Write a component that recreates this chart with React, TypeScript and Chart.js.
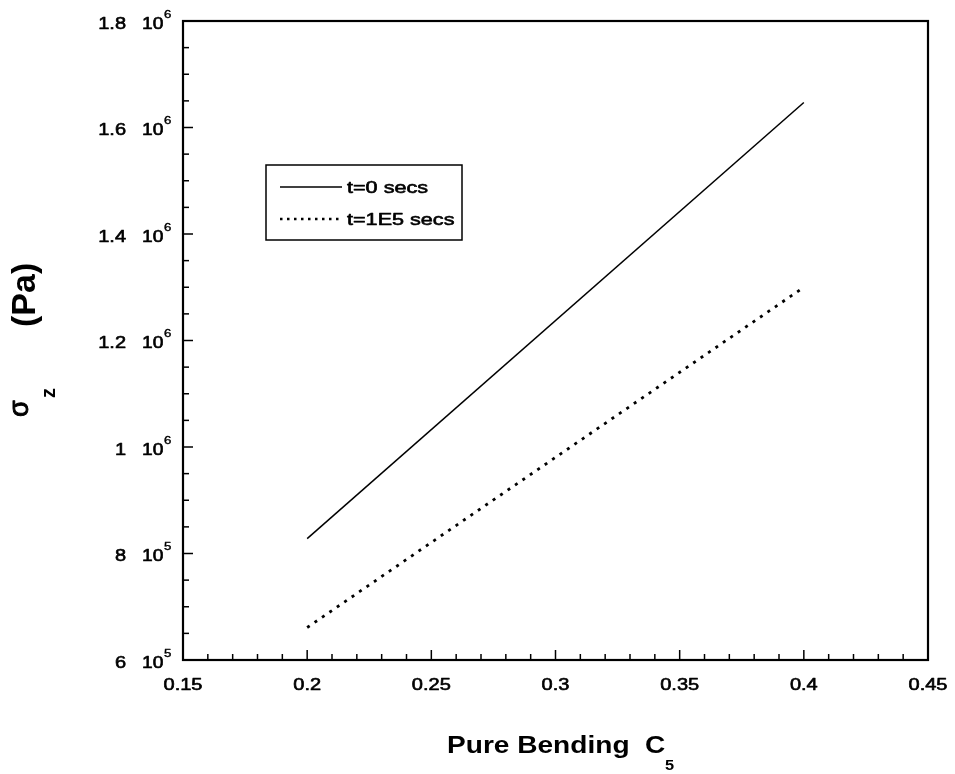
import React, { useEffect, useRef } from "react";
import { Chart, registerables } from "chart.js";

Chart.register(...registerables);

// ---- data ----
const bendingC5 = [0.2, 0.4];
const sigmaT0 = [828000, 1647000];
const sigmaT1E5 = [661000, 1300000];
const seriesLabels = ["t=0 secs", "t=1E5 secs"];

const xMajorTicks = [0.15, 0.2, 0.25, 0.3, 0.35, 0.4, 0.45];
const xTickLabels = ["0.15", "0.2", "0.25", "0.3", "0.35", "0.4", "0.45"];
const yMajorTicks = [600000, 800000, 1000000, 1200000, 1400000, 1600000, 1800000];
const yTickMantissa = ["6", "8", "1", "1.2", "1.4", "1.6", "1.8"];
const yTickExponent = ["5", "5", "6", "6", "6", "6", "6"];
const xMinorStep = 0.01;
const yMinorStep = 50000;

const FONT = "'Liberation Sans', Arial, sans-serif";

function stretchedText(
  ctx: CanvasRenderingContext2D,
  text: string,
  x: number,
  y: number,
  font: string,
  sx: number,
  align: CanvasTextAlign = "left",
  rotate = false,
  thicken = 0
) {
  ctx.save();
  ctx.translate(x, y);
  ctx.scale(sx, 1);
  if (rotate) ctx.rotate(-Math.PI / 2);
  ctx.font = font;
  ctx.textAlign = align;
  ctx.textBaseline = "alphabetic";
  ctx.fillStyle = "#000";
  ctx.fillText(text, 0, 0);
  if (thicken > 0) {
    ctx.strokeStyle = "#000";
    ctx.lineWidth = thicken;
    ctx.lineJoin = "round";
    ctx.strokeText(text, 0, 0);
  }
  ctx.restore();
}

const framePlugin = {
  id: "framePlugin",
  afterDraw(chart: any) {
    const ctx: CanvasRenderingContext2D = chart.ctx;
    const { left, right, top, bottom } = chart.chartArea;
    const xs = chart.scales.x;
    const ys = chart.scales.y;
    ctx.save();
    ctx.strokeStyle = "#000";
    // frame
    ctx.lineWidth = 2.2;
    ctx.strokeRect(left, top, right - left, bottom - top);

    // x ticks (inward)
    ctx.lineWidth = 1.5;
    const xmin = xs.min, xmax = xs.max;
    const nx = Math.round((xmax - xmin) / xMinorStep);
    for (let i = 0; i <= nx; i++) {
      const v = xmin + i * xMinorStep;
      const px = xs.getPixelForValue(v);
      const major = i % 5 === 0;
      ctx.beginPath();
      ctx.moveTo(px, bottom);
      ctx.lineTo(px, bottom - (major ? 10 : 6));
      ctx.stroke();
    }
    // y ticks (inward)
    const ymin = ys.min, ymax = ys.max;
    const ny = Math.round((ymax - ymin) / yMinorStep);
    for (let i = 0; i <= ny; i++) {
      const v = ymin + i * yMinorStep;
      const py = ys.getPixelForValue(v);
      const major = i % 4 === 0;
      ctx.beginPath();
      ctx.moveTo(left, py);
      ctx.lineTo(left + (major ? 10 : 6), py);
      ctx.stroke();
    }

    // x tick labels
    xMajorTicks.forEach((v, i) => {
      const px = xs.getPixelForValue(v);
      stretchedText(ctx, xTickLabels[i], px, bottom + 30, `16px ${FONT}`, 1.25, "center", false, 0.6);
    });
    // y tick labels
    yMajorTicks.forEach((v, i) => {
      const py = ys.getPixelForValue(v);
      stretchedText(ctx, yTickMantissa[i], left - 57, py + 7.5, `16px ${FONT}`, 1.25, "right", false, 0.6);
      stretchedText(ctx, "10", left - 41, py + 7.5, `16px ${FONT}`, 1.2, "left", false, 0.6);
      stretchedText(ctx, yTickExponent[i], left - 19, py - 3.5, `11px ${FONT}`, 1.2, "left", false, 0.4);
    });

    // x axis title
    stretchedText(ctx, "Pure Bending", 447, 753, `bold 24px ${FONT}`, 1.17, "left");
    stretchedText(ctx, "C", 645, 753, `bold 24px ${FONT}`, 1.17, "left");
    stretchedText(ctx, "5", 665, 770, `bold 14px ${FONT}`, 1.17, "left");

    // y axis title (rotated)
    stretchedText(ctx, "σ", 28, 417, `27px ${FONT}`, 1.0, "left", true, 1);
    stretchedText(ctx, "z", 55, 398, `bold 20px ${FONT}`, 1.0, "left", true);
    stretchedText(ctx, "(Pa)", 35, 327, `bold 34px ${FONT}`, 1.0, "left", true);

    // legend
    ctx.lineWidth = 1.5;
    ctx.strokeRect(266, 165, 196, 75);
    const ds = chart.data.datasets;
    const rows = [187, 219];
    ds.forEach((d: any, i: number) => {
      ctx.save();
      ctx.strokeStyle = "#000";
      ctx.lineWidth = i === 0 ? 1.5 : 2.5;
      ctx.setLineDash(i === 0 ? [] : [2.5, 4.5]);
      ctx.beginPath();
      ctx.moveTo(280, rows[i]);
      ctx.lineTo(342, rows[i]);
      ctx.stroke();
      ctx.restore();
      stretchedText(ctx, seriesLabels[i], 347, rows[i] + 6, `16px ${FONT}`, 1.35, "left", false, 0.6);
    });
    ctx.restore();
  },
};

export default function App() {
  const ref = useRef<HTMLCanvasElement | null>(null);
  useEffect(() => {
    if (!ref.current) return;
    const chart = new Chart(ref.current, {
      type: "line",
      data: {
        datasets: [
          {
            label: seriesLabels[0],
            data: bendingC5.map((x, i) => ({ x, y: sigmaT0[i] })),
            borderColor: "#000",
            borderWidth: 1.5,
            pointRadius: 0,
            fill: false,
          },
          {
            label: seriesLabels[1],
            data: bendingC5.map((x, i) => ({ x, y: sigmaT1E5[i] })),
            borderColor: "#000",
            borderWidth: 2.8,
            borderDash: [3, 6],
            pointRadius: 0,
            fill: false,
          },
        ],
      },
      options: {
        animation: false,
        responsive: false,
        devicePixelRatio: 1,
        layout: { padding: { left: 183, top: 21, right: 27, bottom: 114 } },
        scales: {
          x: { type: "linear", min: 0.15, max: 0.45, display: false },
          y: { type: "linear", min: 600000, max: 1800000, display: false },
        },
        plugins: { legend: { display: false }, tooltip: { enabled: false } },
      },
      plugins: [framePlugin],
    });
    return () => chart.destroy();
  }, []);
  return (
    <div style={{ position: "fixed", left: 0, top: 0, width: 955, height: 774, background: "#fff" }}>
      <canvas ref={ref} width={955} height={774} />
    </div>
  );
}
